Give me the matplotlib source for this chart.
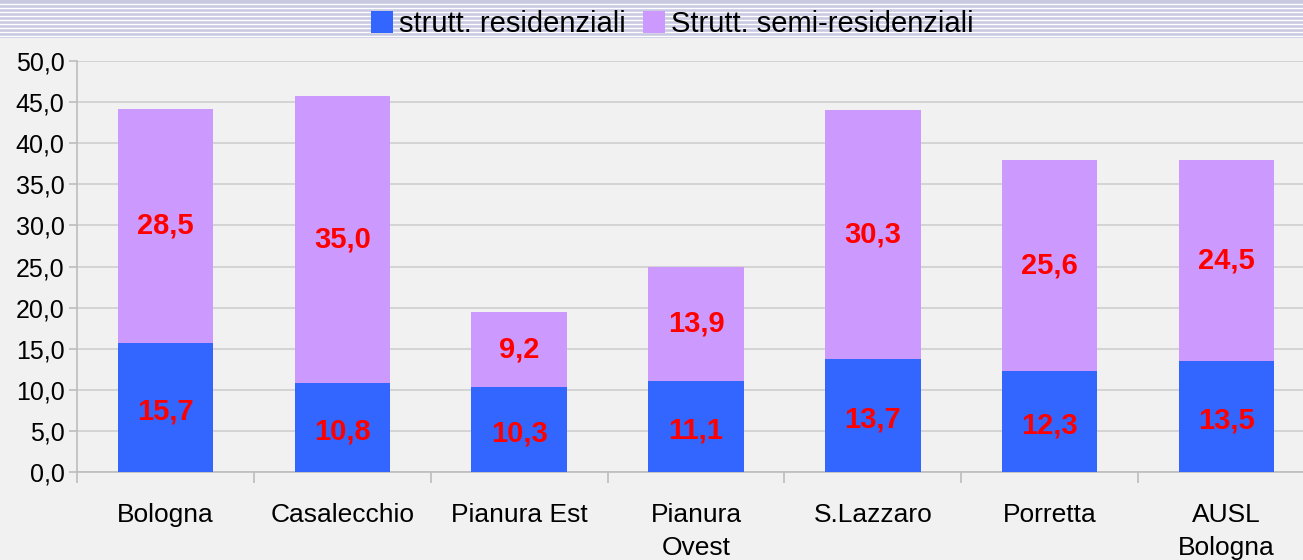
import matplotlib
matplotlib.use("Agg")
import matplotlib.pyplot as plt
from matplotlib.patches import Rectangle, Patch
from matplotlib.lines import Line2D
import numpy as np

categories = ["Bologna", "Casalecchio", "Pianura Est", "Pianura\nOvest", "S.Lazzaro", "Porretta", "AUSL\nBologna"]
residenziali = [15.7, 10.8, 10.3, 11.1, 13.7, 12.3, 13.5]
semi_residenziali = [28.5, 35.0, 9.2, 13.9, 30.3, 25.6, 24.5]
series_names = ["strutt. residenziali", "Strutt. semi-residenziali"]
yticks = [0, 5, 10, 15, 20, 25, 30, 35, 40, 45, 50]

plt.rcParams['font.family'] = ['Liberation Sans', 'DejaVu Sans']

W, H = 1303, 560
fig = plt.figure(figsize=(W / 100, H / 100), dpi=100)
fig.patch.set_facecolor("#f1f1f1")

# header band with stripes
band_bot = 1 - 38 / H
fig.patches.append(Rectangle((0, band_bot), 1, 1 - band_bot, transform=fig.transFigure,
                             facecolor="#c9c9e2", edgecolor="none", zorder=0))
for k in range(9):
    yy = 1 - (4 + k * 4) / H
    fig.lines.append(Line2D([0, 1], [yy, yy], transform=fig.transFigure, color="white",
                            lw=1.0, zorder=0.5))

left = 77 / W
right = 1315 / W
bottom = 1 - 472 / H
top = 1 - 61 / H
ax = fig.add_axes([left, bottom, right - left, top - bottom])
ax.set_facecolor("none")

x = np.arange(len(categories))
w = 0.54
ax.bar(x, residenziali, w, color="#3366ff", label=series_names[0], zorder=3)
ax.bar(x, semi_residenziali, w, bottom=residenziali, color="#cc99ff", label=series_names[1], zorder=3)

for xi, r, s in zip(x, residenziali, semi_residenziali):
    ax.text(xi, r / 2 - 0.5, f"{r:.1f}".replace(".", ","), ha="center", va="center",
            color="#ff0000", fontsize=21, fontweight="bold", zorder=4)
    ax.text(xi, r + s / 2, f"{s:.1f}".replace(".", ","), ha="center", va="center",
            color="#ff0000", fontsize=21, fontweight="bold", zorder=4)

ax.set_xlim(-0.5, len(categories) - 0.5)
ax.set_ylim(0, 50)
ax.set_yticks(yticks)
ax.set_yticklabels([f"{v:.1f}".replace(".", ",") for v in yticks], fontsize=18)
ax.yaxis.grid(True, color="#cfcfcf", lw=1.2, zorder=0)
ax.set_axisbelow(True)

ax.set_xticks(x)
ax.set_xticklabels(categories, fontsize=19, linespacing=1.5, va="top")
ax.tick_params(axis="x", length=0, pad=22)
ax.set_xticks(np.arange(-0.5, len(categories), 1.0), minor=True)
ax.tick_params(axis="x", which="minor", length=8, color="#bdbdbd", width=1.2, direction="out")
ax.tick_params(axis="y", length=6, color="#bdbdbd", width=1.2, direction="out", pad=3)

for sp in ["top", "right"]:
    ax.spines[sp].set_visible(False)
for sp in ["left", "bottom"]:
    ax.spines[sp].set_color("#bdbdbd")
    ax.spines[sp].set_linewidth(1.2)

handles = [Patch(facecolor="#3366ff"), Patch(facecolor="#cc99ff")]
fig.legend(handles, series_names, loc="center", bbox_to_anchor=(672 / W, 1 - 24 / H),
           ncol=2, frameon=False, fontsize=21, handlelength=0.75, handleheight=0.75,
           handletextpad=0.2, columnspacing=0.6, borderaxespad=0, borderpad=0)

fig.savefig("out.png", dpi=100, facecolor=fig.get_facecolor())
